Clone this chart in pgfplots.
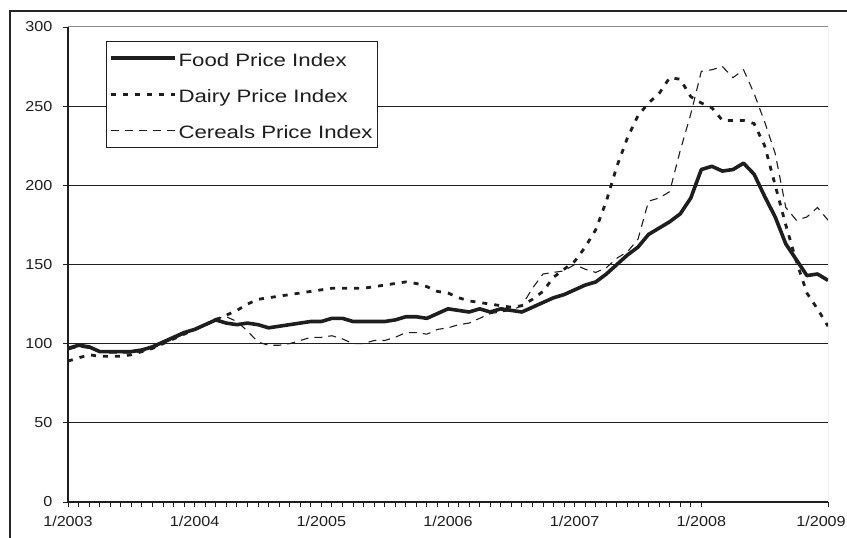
\documentclass[border=0pt]{standalone}
\usepackage{fontspec}
\setmainfont{Liberation Sans}[FakeStretch=1.24]
\newfontfamily\tickfont{Liberation Sans}[FakeStretch=1.12]
\usepackage{pgfplots}
\pgfplotsset{compat=1.18}
\usepackage{pgfplotstable}
\definecolor{ink}{HTML}{1E1E1E}
\pgfplotstableread{
m food dairy cereals
0 97 89 96
1 99 91 98
2 98 93 97
3 95 92 95
4 95 92 94
5 95 92 94
6 95 93 94
7 96 95 95
8 98 97 97
9 101 100 100
10 104 103 103
11 107 106 106
12 109 109 109
13 112 112 112
14 115 115 116
15 113 118 117
16 112 121 114
17 113 125 108
18 112 128 101
19 110 129 99
20 111 130 99
21 112 131 100
22 113 132 102
23 114 133 104
24 114 134 104
25 116 135 105
26 116 135 103
27 114 135 100
28 114 135 100
29 114 136 102
30 114 137 102
31 115 138 104
32 117 139 107
33 117 138 107
34 116 136 106
35 119 133 109
36 122 132 110
37 121 129 112
38 120 127 113
39 122 126 116
40 120 125 119
41 122 124 120
42 121 123 121
43 120 124 124
44 123 128 135
45 126 133 144
46 129 142 145
47 131 147 146
48 134 152 150
49 137 161 147
50 139 172 145
51 144 190 148
52 150 212 154
53 156 230 158
54 161 244 166
55 169 252 190
56 173 258 192
57 177 268 196
58 182 267 222
59 192 256 245
60 210 252 272
61 212 249 273
62 209 241 275
63 210 241 268
64 214 241 273
65 207 239 258
66 193 225 240
67 180 200 220
68 163 175 186
69 153 152 178
70 143 132 180
71 144 122 186
72 140 111 178
}\datatable
\begin{document}
\begin{tikzpicture}
\path[use as bounding box] (0,0) rectangle (847bp,538bp);
\draw[black!85, line width=1.2bp] (10bp,-2bp) -- (10bp,527bp) -- (849bp,527bp);
\begin{axis}[
  at={(68bp,36bp)}, anchor=south west,
  scale only axis, width=760bp, height=475bp,
  xmin=0, xmax=72, ymin=0, ymax=300,
  axis x line*=bottom, axis y line*=left,
  axis line style={ink, line width=1.1bp, -},
  tick align=outside,
  major tick length=5bp, minor tick length=5bp,
  tick style={ink, line width=0.8bp},
  xtick={0,12,...,60},
  xticklabels={1/2003,1/2004,1/2005,1/2006,1/2007,1/2008},
  extra x ticks={72},
  extra x tick labels={1/2009},
  extra x tick style={tick label style={xshift=-7bp}},
  minor x tick num=11,
  ytick={0,50,...,300},
  ymajorgrids,
  grid style={ink, line width=1bp},
  /pgf/number format/assume math mode=true,
  tick label style={font=\tickfont\fontsize{14.5}{14.5}\selectfont, text=ink},
  x tick label style={yshift=-6bp},
  y tick label style={xshift=-7bp},
  legend style={at={(0.05,0.9705)}, anchor=north west, draw=ink, line width=0.9bp, fill=white,
    font=\fontsize{18}{18}\selectfont, text=ink, inner xsep=3bp, inner ysep=7bp,
    row sep=16.5bp, nodes={inner sep=1.5bp, text height=16.5bp, text depth=0bp}},
  legend cell align=left,
  legend image code/.code={\draw[#1] (0bp,0bp) -- (64bp,0bp);},
]
\draw[black!45, line width=1bp] (rel axis cs:0,1) -- (rel axis cs:1,1) -- (rel axis cs:1,0);
\addplot[ink, line width=3.6bp, line join=round] table[x=m, y=food] {\datatable};
\addlegendentry{Food Price Index}
\addplot[ink, line width=2.8bp, dash pattern=on 5bp off 7bp] table[x=m, y=dairy] {\datatable};
\addlegendentry{Dairy Price Index}
\addplot[ink, line width=1.1bp, dash pattern=on 8bp off 6bp] table[x=m, y=cereals] {\datatable};
\addlegendentry{Cereals Price Index}
\end{axis}
\end{tikzpicture}
\end{document}
